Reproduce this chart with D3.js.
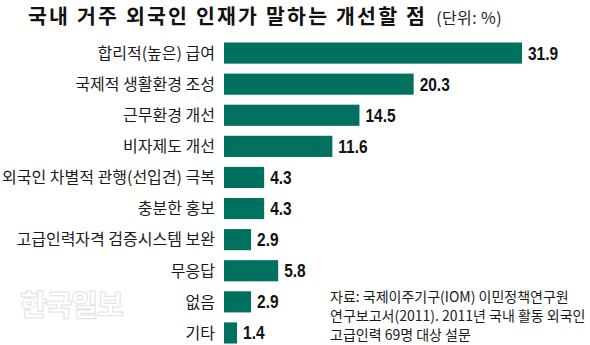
<!DOCTYPE html>
<html>
<head>
<meta charset="utf-8">
<script src="https://cdn.jsdelivr.net/npm/d3@7"></script>
<style>
  html, body { margin: 0; padding: 0; background: #ffffff; }
  svg { display: block; }
</style>
</head>
<body>
<script>
// Survey: what foreign professionals living in Korea want improved (unit: %)
const categories = [
  "합리적(높은) 급여",
  "국제적 생활환경 조성",
  "근무환경 개선",
  "비자제도 개선",
  "외국인 차별적 관행(선입견) 극복",
  "충분한 홍보",
  "고급인력자격 검증시스템 보완",
  "무응답",
  "없음",
  "기타"
];
const values = [31.9, 20.3, 14.5, 11.6, 4.3, 4.3, 2.9, 5.8, 2.9, 1.4];
const valueLabels = ["31.9", "20.3", "14.5", "11.6", "4.3", "4.3", "2.9", "5.8", "2.9", "1.4"];

const titleText = "국내 거주 외국인 인재가 말하는 개선할 점";
const unitText = "(단위: %)";
const sourceLines = [
  "자료: 국제이주기구(IOM) 이민정책연구원",
  "연구보고서(2011). 2011년 국내 활동 외국인",
  "고급인력 69명 대상 설문"
];

const W = 590, H = 345;
const barColor = "#00705f";
const krFont = "'Noto Sans CJK KR', 'Noto Sans', sans-serif";
const numFont = "'Liberation Sans', Arial, sans-serif";

const svg = d3.select("body").append("svg")
  .attr("width", W).attr("height", H);

const x = d3.scaleLinear().domain([0, 31.9]).range([224, 522]);
const y = d3.scaleBand().domain(categories).range([37.5, 348.5])
  .paddingInner(0.32).paddingOuter(0.16);

// watermark
svg.append("text")
  .attr("x", 20).attr("y", 316)
  .attr("font-family", krFont).attr("font-weight", 900)
  .attr("font-size", 29)
  .attr("fill", "#ffffff")
  .attr("stroke", "#e4e4e4").attr("stroke-width", 1.1)
  .attr("letter-spacing", -1)
  .text("한국일보");

// title and unit
const titleEl = svg.append("text")
  .attr("x", 28).attr("y", 24)
  .attr("font-family", krFont)
  .attr("font-size", 20.5).attr("font-weight", 700)
  .attr("letter-spacing", 2.2)
  .attr("fill", "#111")
  .text(titleText);
const titleEnd = 28 + titleEl.node().getComputedTextLength();
svg.append("text")
  .attr("x", titleEnd + 9).attr("y", 24)
  .attr("font-family", krFont)
  .attr("font-size", 16).attr("font-weight", 400)
  .attr("letter-spacing", 0.4)
  .attr("fill", "#222")
  .text(unitText);

// bars
const g = svg.append("g");
g.selectAll("rect.bar").data(values).join("rect")
  .attr("class", "bar")
  .attr("x", x(0))
  .attr("y", (d, i) => y(categories[i]))
  .attr("width", d => x(d) - x(0))
  .attr("height", y.bandwidth())
  .attr("fill", barColor);

// category labels
g.selectAll("text.cat").data(categories).join("text")
  .attr("class", "cat")
  .attr("x", 215)
  .attr("y", d => y(d) + y.bandwidth() / 2)
  .attr("dy", "0.36em")
  .attr("text-anchor", "end")
  .attr("font-family", krFont)
  .attr("font-size", 16)
  .attr("fill", "#1a1a1a")
  .text(d => d);

// value labels (bold, horizontally condensed)
g.selectAll("text.val").data(values).join("text")
  .attr("class", "val")
  .attr("transform", (d, i) =>
    `translate(${x(d) + 6},${y(categories[i]) + y.bandwidth() / 2}) scale(0.86,1)`)
  .attr("dy", "0.36em")
  .attr("font-family", numFont)
  .attr("font-weight", 700)
  .attr("font-size", 18)
  .attr("fill", "#111")
  .text((d, i) => valueLabels[i]);

// source note
svg.append("g").selectAll("text").data(sourceLines).join("text")
  .attr("x", 330)
  .attr("y", (d, i) => 302 + i * 19)
  .attr("font-family", krFont)
  .attr("font-size", 14)
  .attr("fill", "#1a1a1a")
  .text(d => d);
</script>
</body>
</html>
